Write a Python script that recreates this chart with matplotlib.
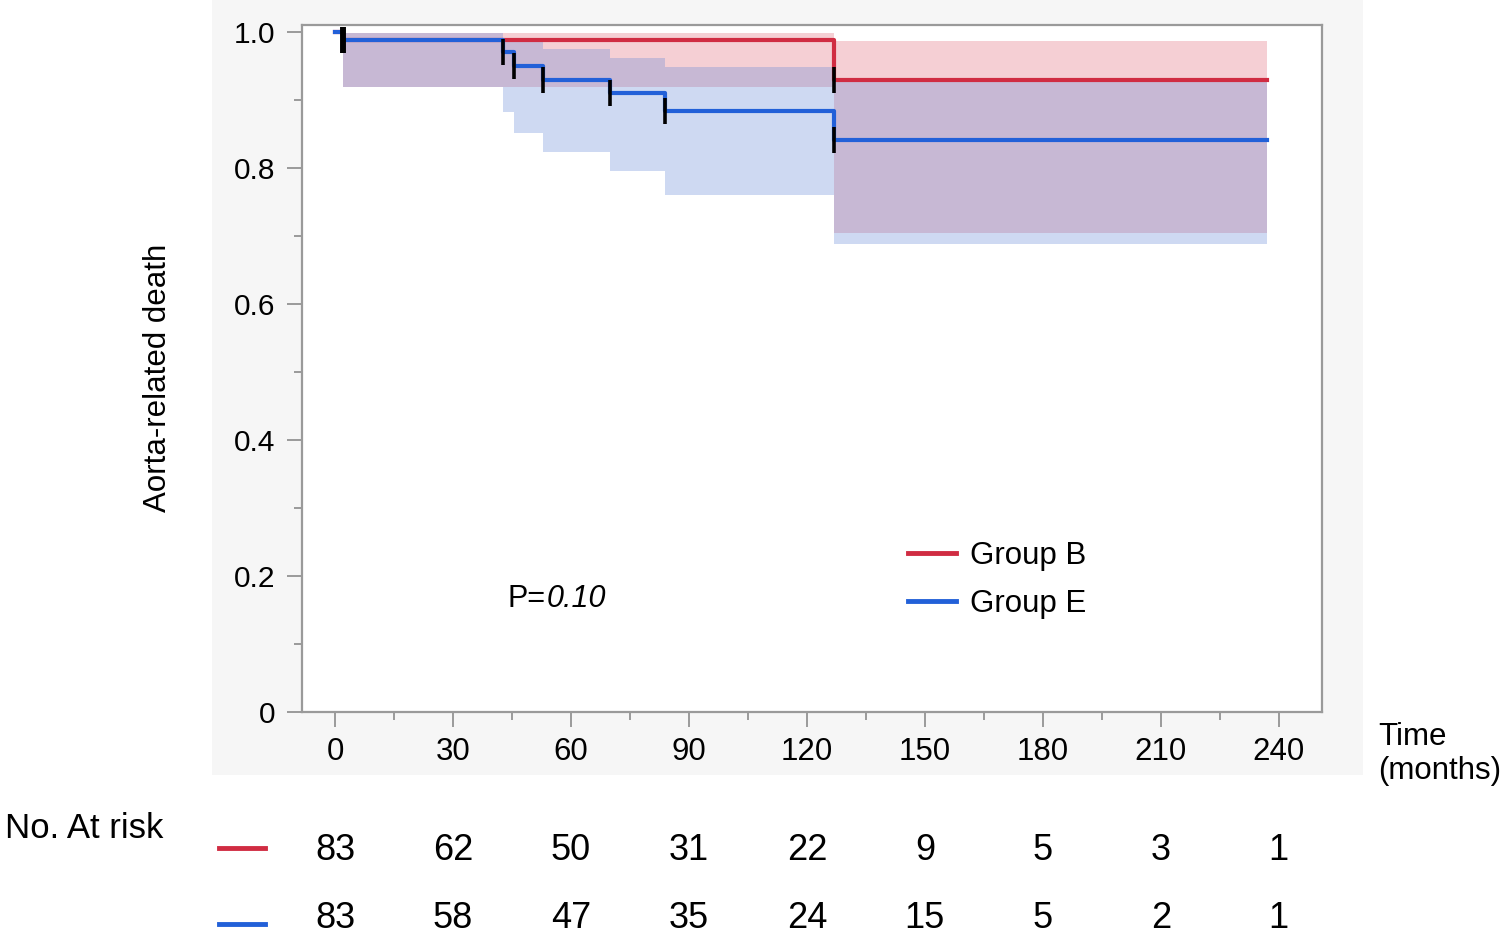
import matplotlib
matplotlib.use("Agg")
import matplotlib.pyplot as plt
from matplotlib.patches import Rectangle
from matplotlib.lines import Line2D
import matplotlib.transforms as mtrans
import numpy as np

plt.rcParams['font.family'] = ['Liberation Sans', 'DejaVu Sans']

# ---- data ----
groups = ["Group B", "Group E"]
red_t = [0, 2, 127, 237]
red_s = [1.0, 0.988, 0.930, 0.930]
blue_t = [0, 2, 42.8, 45.4, 52.9, 69.9, 83.9, 127, 237]
blue_s = [1.0, 0.988, 0.971, 0.950, 0.929, 0.911, 0.884, 0.841, 0.841]

red_ci_t = [2, 127, 237]
red_ci_lo = [0.919, 0.704, 0.704]
red_ci_hi = [0.998, 0.987, 0.987]
blue_ci_t = [2, 42.8, 45.4, 52.9, 69.9, 83.9, 127, 237]
blue_ci_lo = [0.919, 0.882, 0.852, 0.824, 0.795, 0.761, 0.688, 0.688]
blue_ci_hi = [0.998, 0.990, 0.985, 0.975, 0.962, 0.948, 0.928, 0.928]

red_mark_t = [1.7, 2.3, 127]
red_mark_s = [0.988, 0.988, 0.930]
blue_mark_t = [1.7, 2.3, 42.8, 45.4, 52.9, 69.9, 83.9, 127]
blue_mark_s = [0.988, 0.988, 0.971, 0.950, 0.929, 0.911, 0.884, 0.841]

risk_times = [0, 30, 60, 90, 120, 150, 180, 210, 240]
risk_red = [83, 62, 50, 31, 22, 9, 5, 3, 1]
risk_blue = [83, 58, 47, 35, 24, 15, 5, 2, 1]

x_ticks = [0, 30, 60, 90, 120, 150, 180, 210, 240]
y_ticks = [0, 0.2, 0.4, 0.6, 0.8, 1.0]
y_tick_labels = ["0", "0.2", "0.4", "0.6", "0.8", "1.0"]

RED = "#d02c42"
BLUE = "#2260d8"
RED_FILL = "#de6273"
BLUE_FILL = "#5f84d7"

W, H = 1505, 942
fig = plt.figure(figsize=(W / 100, H / 100), dpi=100)

def fx(px):
    return px / W

def fy(py):
    return 1 - py / H

# gray panel
fig.patches.append(Rectangle((fx(212), fy(775)), fx(1363) - fx(212), 1 - fy(775),
                             transform=fig.transFigure, facecolor="#f6f6f6",
                             edgecolor="none", zorder=-5))

ax = fig.add_axes([fx(302), fy(712), fx(1322) - fx(302), fy(25) - fy(712)])
ax.set_zorder(2)
ax.set_facecolor("white")
ax.set_xlim(-8.4, 251)
ax.set_ylim(0, 1.0103)

ax.fill_between(red_ci_t, red_ci_lo, red_ci_hi, step="post", color=RED_FILL,
                alpha=0.3, linewidth=0)
ax.fill_between(blue_ci_t, blue_ci_lo, blue_ci_hi, step="post", color=BLUE_FILL,
                alpha=0.3, linewidth=0)

ax.step(red_t, red_s, where="post", color=RED, linewidth=3, zorder=3)
ax.step(blue_t, blue_s, where="post", color=BLUE, linewidth=3, zorder=4)

ax.plot(red_mark_t, red_mark_s, linestyle="none", marker="|", markersize=19,
        markeredgewidth=2.6, color="black", zorder=5)
ax.plot(blue_mark_t, blue_mark_s, linestyle="none", marker="|", markersize=19,
        markeredgewidth=2.6, color="black", zorder=5)

for s in ax.spines.values():
    s.set_color("#9a9a9a")
    s.set_linewidth(1.6)

ax.set_xticks(x_ticks)
ax.set_xticks(np.arange(15, 240, 30), minor=True)
ax.set_yticks(y_ticks)
ax.set_yticklabels(y_tick_labels)
ax.set_yticks(np.arange(0.1, 1.0, 0.2), minor=True)
ax.tick_params(axis="both", which="major", length=11, width=1.4, color="#9a9a9a",
               direction="out")
ax.tick_params(axis="both", which="minor", length=5.5, width=1.4, color="#9a9a9a",
               direction="out")
ax.tick_params(axis="x", which="major", labelsize=22.5, pad=7)
ax.tick_params(axis="y", which="major", labelsize=21.5, pad=8)

# texts
fig.text(fx(158), fy(378), "Aorta-related death", rotation=90, fontsize=22.5,
         ha="center", va="center")
fig.text(fx(1378), fy(754), "Time\n(months)", fontsize=22.5, ha="left", va="center",
         linespacing=1.15)
ax.text(0.201, 0.165, "P=", transform=ax.transAxes, fontsize=22, ha="left",
        va="center")
ax.text(0.240, 0.165, "0.10", transform=ax.transAxes, fontsize=22, ha="left",
        va="center", style="italic")

handles = [Line2D([], [], color=RED, linewidth=3.5), Line2D([], [], color=BLUE, linewidth=3.5)]
fig.legend(handles, groups, loc="upper left",
           bbox_to_anchor=(fx(908), fy(541)), frameon=False, fontsize=22.5,
           handlelength=1.55, handletextpad=0.45, labelspacing=0.58,
           borderpad=0, borderaxespad=0)

fig.text(fx(5), fy(828), "No. At risk", fontsize=25, ha="left", va="center")

bt = mtrans.blended_transform_factory(ax.transData, fig.transFigure)
fig.add_artist(Line2D([fx(219), fx(265)], [fy(848), fy(848)], color=RED,
                      linewidth=3.5, transform=fig.transFigure))
fig.add_artist(Line2D([fx(219), fx(265)], [fy(924), fy(924)], color=BLUE,
                      linewidth=3.5, transform=fig.transFigure))
for t, n in zip(risk_times, risk_red):
    ax.text(t, fy(850), str(n), transform=bt, fontsize=26, ha="center",
            va="center", clip_on=False)
for t, n in zip(risk_times, risk_blue):
    ax.text(t, fy(919), str(n), transform=bt, fontsize=26, ha="center",
            va="center", clip_on=False)

fig.savefig("out.png", dpi=100)
